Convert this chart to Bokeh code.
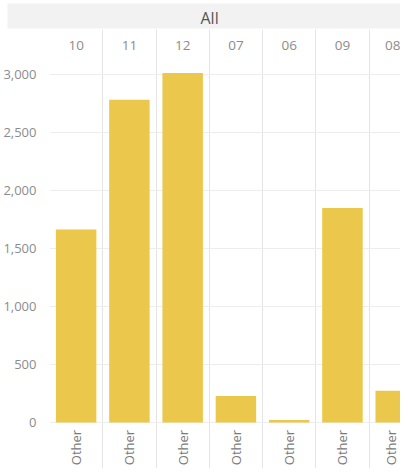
import math
from bokeh.plotting import figure
from bokeh.models import Range1d, FixedTicker, LinearAxis, NumeralTickFormatter
from bokeh.embed import file_html
from bokeh.resources import INLINE

# ---- data ----
header = "All"
months = ["10", "11", "12", "07", "06", "09", "08"]
segments = ["Other", "Other", "Other", "Other", "Other", "Other", "Other"]
sales = [1664, 2784, 3014, 230, 23, 1851, 274]
y_ticks = [0, 500, 1000, 1500, 2000, 2500, 3000]

FONT = "Open Sans"
BAR = "#EBC84C"
DIV = "#e4e4e4"
GRID = "#ededed"

xs = list(range(len(months)))
bounds = [i - 0.5 for i in range(len(months) + 1)]

# frame runs from the band down to the bottom of the page; header and row
# label axes sit inside it at fixed locations
Y_LO, Y_HI = -396, 3389
HEAD_AT, ROW_AT = 3141, -11

p = figure(width=400, height=468, output_backend="svg", toolbar_location=None,
           x_range=Range1d(-0.5, 6.09), y_range=Range1d(Y_LO, Y_HI),
           x_axis_location=None, y_axis_location="left",
           min_border_left=42, min_border_right=0,
           min_border_top=24, min_border_bottom=0,
           title=header)
p.outline_line_color = None
p.background_fill_color = "white"
p.border_fill_color = "white"

# title band
t = p.title
t.align = "left"
t.offset = -42
t.text_font = FONT
t.text_font_size = "16px"
t.text_font_style = "normal"
t.text_color = "#555555"
t.background_fill_color = "#f2f2f2"
t.padding = dict(left=193, right=200, top=3, bottom=0)
t.standoff = 2

# bars
p.vbar(x=xs, top=sales, width=0.76, bottom=0, color=BAR, line_color=None)

# y axis
ya = p.yaxis[0]
ya.ticker = FixedTicker(ticks=y_ticks)
ya.formatter = NumeralTickFormatter(format="0,0")
ya.axis_line_color = None
ya.major_tick_line_color = None
ya.minor_tick_line_color = None
ya.major_label_text_font = FONT
ya.major_label_text_font_size = "13px"
ya.major_label_text_color = "#8c8c8c"
ya.major_label_standoff = 7

# grids
p.ygrid.ticker = FixedTicker(ticks=y_ticks)
p.ygrid.grid_line_color = GRID
p.xgrid.ticker = FixedTicker(ticks=bounds)
p.xgrid.grid_line_color = DIV

# column headers (above, pinned inside the frame)
top_ax = LinearAxis(ticker=FixedTicker(ticks=xs),
                    major_label_overrides={i: m for i, m in zip(xs, months)},
                    fixed_location=HEAD_AT)
top_ax.axis_line_color = None
top_ax.major_tick_line_color = None
top_ax.minor_tick_line_color = None
top_ax.major_tick_out = 0
top_ax.major_tick_in = 0
top_ax.major_label_standoff = 8
top_ax.major_label_text_font = FONT
top_ax.major_label_text_font_size = "13.5px"
top_ax.major_label_text_color = "#8c8c8c"
p.add_layout(top_ax, "above")

# row labels (below, pinned inside the frame)
bot_ax = LinearAxis(ticker=FixedTicker(ticks=xs),
                    major_label_overrides={i: s for i, s in zip(xs, segments)},
                    fixed_location=ROW_AT)
bot_ax.axis_line_color = None
bot_ax.major_tick_line_color = None
bot_ax.minor_tick_line_color = None
bot_ax.major_tick_out = 0
bot_ax.major_tick_in = 0
bot_ax.major_label_standoff = 6
bot_ax.major_label_orientation = math.pi / 2
bot_ax.major_label_text_font = FONT
bot_ax.major_label_text_font_size = "13px"
bot_ax.major_label_text_color = "#7a7a7a"
p.add_layout(bot_ax, "below")

open("out.html", "w").write(file_html(p, INLINE))
